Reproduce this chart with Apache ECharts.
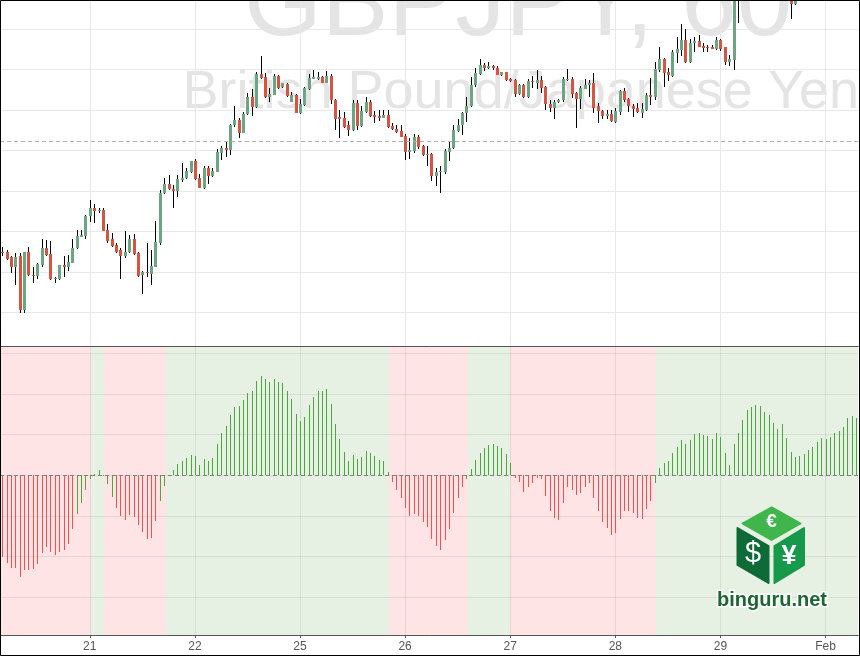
<!DOCTYPE html>
<html><head><meta charset="utf-8">
<script src="https://cdn.jsdelivr.net/npm/echarts@6.0.0/dist/echarts.min.js"></script>
<style>html,body{margin:0;padding:0;background:#fff}#c{width:860px;height:656px}</style>
</head><body><div id="c"></div>
<script>
// ---- axis / tick labels ----
const dayNames = ['20', '21', '22', '25', '26', '27', '28', '29', 'Feb'];
const firstHour = 4;   // first bar: 20 Jan 04:00
const lastHour = 7;    // last bar: 1 Feb 07:00

// ---- GBPJPY hourly candles ----
const openP = [
165.50,165.48,165.36,165.13,165.38,164.06,165.49,164.92,164.90,165.17,
165.59,165.44,164.82,164.83,165.17,165.13,165.23,165.58,165.87,165.89,
166.37,166.57,166.51,166.53,166.04,165.81,165.66,165.53,165.38,165.48,
165.81,165.46,164.91,165.00,164.95,165.13,165.71,166.94,167.17,167.05,
167.01,167.27,167.31,167.48,167.74,167.32,167.07,167.58,167.36,167.48,
167.95,168.06,168.02,168.62,168.76,168.44,168.90,169.33,169.07,169.89,
169.81,169.33,169.38,169.85,169.57,169.64,169.21,169.38,168.94,169.13,
169.53,169.78,169.78,169.81,169.68,169.85,169.25,168.82,168.81,168.62,
168.51,169.18,168.61,168.96,169.20,168.88,168.86,168.81,168.88,168.61,
168.53,168.48,168.37,167.97,167.99,168.34,168.12,167.88,167.92,167.36,
167.46,167.46,167.97,168.06,168.49,168.62,168.92,169.09,169.61,169.89,
170.12,170.03,170.09,170.04,169.88,169.94,169.77,169.75,169.40,169.62,
169.33,169.73,169.68,169.75,169.57,169.15,169.05,169.19,169.24,169.75,
169.77,169.43,169.28,169.53,169.61,169.67,169.09,168.98,168.86,168.91,
168.70,168.95,169.48,169.28,169.10,169.06,168.94,169.00,169.37,169.33,
169.99,170.27,169.95,169.85,170.42,170.49,170.74,170.18,170.65,170.71,
170.59,170.57,170.57,170.50,170.74,170.55,170.19,170.24,172.55,172.20,
172.45,172.75,172.60,172.85,172.70,172.40,172.55,172.15,172.35,172.00,
171.95,171.62,171.95,172.20,172.10,172.35,172.30,172.50,172.45,172.70,
172.60,172.85,172.75,173.00,173.20,173.05];
const highP = [
165.61,165.54,165.38,165.46,165.47,165.50,165.61,165.13,165.21,165.81,
165.79,165.76,164.88,165.17,165.40,165.41,165.81,166.04,166.04,166.41,
166.78,166.68,166.57,166.57,166.19,165.95,165.72,165.58,166.02,165.91,
165.93,165.48,165.02,165.72,165.54,166.27,167.03,167.31,167.40,167.15,
167.40,167.70,167.56,167.75,167.79,167.42,167.62,167.63,167.58,168.04,
168.12,168.22,168.66,169.09,168.80,168.96,169.42,169.52,169.95,170.34,
169.91,169.54,169.90,169.87,169.68,169.66,169.44,169.40,169.27,169.58,
169.89,169.99,169.95,169.85,169.97,169.90,169.27,169.00,168.96,168.73,
169.25,169.25,169.09,169.32,169.24,168.97,169.00,169.00,169.00,168.67,
168.63,168.63,168.40,168.30,168.41,168.39,168.14,168.12,167.93,167.56,
167.62,168.03,168.22,168.64,168.77,168.96,169.33,169.83,170.03,170.26,
170.16,170.20,170.12,170.08,169.95,169.95,169.79,169.76,169.64,169.65,
169.76,169.85,170.00,169.85,169.60,169.25,169.25,169.27,169.83,170.01,
169.81,169.46,169.60,169.76,169.75,169.93,169.17,169.00,169.00,169.00,
169.05,169.50,169.55,169.31,169.14,169.17,169.17,169.42,169.79,170.19,
170.56,170.28,170.03,170.49,170.82,171.13,171.01,170.75,170.82,170.86,
170.65,170.61,170.60,170.82,170.76,170.57,170.36,172.80,173.10,172.70,
172.90,173.00,172.95,173.20,172.85,172.75,172.60,172.50,172.45,172.20,
172.10,172.05,172.30,172.40,172.45,172.55,172.60,172.70,172.80,172.85,
172.95,173.05,173.10,173.30,173.35,173.25];
const lowP = [
165.38,165.29,164.96,164.68,163.98,163.98,164.90,164.72,164.83,165.13,
165.38,164.80,164.73,164.80,164.88,165.03,165.21,165.56,165.85,165.81,
166.24,166.22,166.45,166.00,165.71,165.61,165.46,164.83,165.34,165.46,
165.42,164.88,164.44,164.88,164.68,165.11,165.67,166.93,167.03,166.59,
166.84,167.23,167.29,167.44,167.26,167.07,167.05,167.18,167.34,167.46,
167.77,167.85,167.88,168.58,168.32,168.43,168.87,168.86,169.05,169.77,
169.31,169.21,169.37,169.52,169.54,169.33,169.19,168.92,168.91,169.10,
169.50,169.76,169.75,169.66,169.66,169.15,168.51,168.30,168.57,168.35,
168.49,168.51,168.59,168.94,168.82,168.67,168.72,168.80,168.55,168.51,
168.44,168.33,167.77,167.79,167.95,168.05,167.86,167.62,167.25,167.13,
166.96,167.43,167.73,168.03,168.47,168.39,168.70,169.07,169.58,169.88,
169.98,170.01,169.99,169.86,169.85,169.73,169.70,169.33,169.38,169.31,
169.29,169.54,169.52,169.42,169.00,168.96,168.77,169.17,169.21,169.73,
169.29,168.55,169.04,169.52,169.32,168.92,168.69,168.79,168.79,168.70,
168.67,168.88,169.20,168.96,168.84,168.92,168.81,168.98,169.13,169.24,
169.95,169.58,169.73,169.83,170.16,170.35,170.16,170.16,170.45,170.55,
170.45,170.43,170.50,170.49,170.47,170.12,170.08,169.99,171.16,171.90,
172.20,172.40,172.35,172.60,172.30,172.20,172.05,171.95,171.90,171.78,
171.25,171.60,171.85,172.00,172.00,172.15,172.20,172.30,172.35,172.50,
172.50,172.65,172.60,172.85,172.95,172.90];
const closeP = [
165.48,165.32,165.13,165.37,164.06,165.49,164.91,164.90,165.19,165.59,
165.42,164.82,164.85,165.17,165.13,165.25,165.59,165.89,165.91,166.38,
166.57,166.51,166.54,166.02,165.77,165.64,165.49,165.38,165.50,165.81,
165.44,164.90,165.00,164.96,165.15,165.74,166.96,167.17,167.04,167.01,
167.29,167.31,167.49,167.74,167.29,167.08,167.58,167.36,167.49,167.96,
168.06,168.02,168.63,168.76,168.44,168.91,169.33,169.08,169.89,169.79,
169.33,169.40,169.85,169.55,169.66,169.36,169.38,168.94,169.15,169.54,
169.80,169.83,169.81,169.68,169.85,169.24,168.79,168.79,168.59,168.51,
169.18,168.61,168.98,169.20,168.86,168.84,168.81,168.87,168.58,168.53,
168.46,168.34,167.97,168.02,168.34,168.10,167.88,167.92,167.36,167.47,
167.50,168.00,168.07,168.51,168.63,168.94,169.10,169.62,169.91,170.12,
170.03,170.09,170.03,169.88,169.94,169.75,169.73,169.40,169.62,169.33,
169.71,169.70,169.75,169.55,169.14,169.05,169.20,169.25,169.77,169.78,
169.40,169.28,169.55,169.62,169.68,169.06,168.97,168.86,168.91,168.72,
168.98,169.48,169.25,169.09,169.03,168.95,169.03,169.37,169.33,170.02,
170.27,169.93,169.88,170.45,170.51,170.74,170.18,170.66,170.71,170.57,
170.54,170.53,170.52,170.74,170.51,170.20,170.27,172.55,172.20,172.45,
172.75,172.60,172.85,172.70,172.40,172.55,172.15,172.35,172.00,171.90,
171.62,171.95,172.20,172.10,172.35,172.30,172.50,172.45,172.70,172.60,
172.85,172.75,173.00,173.20,173.05,173.15];
const refPrice = 168.23;   // dashed reference price line

// ---- oscillator histogram ----
const histVal = [
-0.200,-0.215,-0.227,-0.227,-0.249,-0.232,-0.232,-0.230,-0.217,-0.190,
-0.176,-0.188,-0.195,-0.188,-0.183,-0.168,-0.131,-0.094,-0.067,-0.036,
-0.010,0.002,0.013,-0.001,-0.021,-0.053,-0.080,-0.100,-0.110,-0.097,
-0.102,-0.121,-0.139,-0.156,-0.153,-0.112,-0.062,-0.026,0.001,0.013,
0.028,0.035,0.043,0.050,0.047,0.025,0.040,0.035,0.043,0.077,
0.104,0.121,0.148,0.168,0.170,0.185,0.203,0.207,0.232,0.245,
0.237,0.230,0.236,0.230,0.227,0.207,0.188,0.151,0.134,0.143,
0.173,0.193,0.207,0.207,0.212,0.175,0.126,0.089,0.057,0.035,
0.050,0.040,0.045,0.060,0.055,0.048,0.038,0.035,0.008,-0.016,
-0.035,-0.055,-0.080,-0.099,-0.094,-0.099,-0.114,-0.126,-0.156,-0.173,
-0.183,-0.158,-0.131,-0.092,-0.057,-0.030,-0.008,0.016,0.038,0.055,
0.067,0.075,0.077,0.072,0.067,0.052,0.030,-0.006,-0.016,-0.040,
-0.030,-0.020,-0.006,-0.008,-0.052,-0.089,-0.104,-0.109,-0.067,-0.030,
-0.035,-0.048,-0.043,-0.030,-0.018,-0.055,-0.087,-0.114,-0.129,-0.148,
-0.143,-0.107,-0.089,-0.087,-0.092,-0.104,-0.107,-0.082,-0.062,-0.018,
0.018,0.030,0.035,0.055,0.070,0.087,0.077,0.087,0.102,0.104,
0.099,0.097,0.089,0.104,0.094,0.055,0.025,0.077,0.104,0.136,
0.161,0.168,0.173,0.170,0.156,0.148,0.129,0.114,0.126,0.092,
0.057,0.045,0.048,0.052,0.062,0.070,0.082,0.092,0.089,0.094,
0.104,0.109,0.119,0.141,0.146,0.141];
// bar index runs drawn in green (others red)
const histGreenRuns = [[17, 25], [36, 88], [106, 116], [149, 195]];

// ---- background zones of the lower panel (in bar-index units) ----
const zoneStart = [-0.5, 20.2, 23.2, 37.4, 88.4, 106.3, 116.0, 149.2];
const zoneEnd   = [20.2, 23.2, 37.4, 88.4, 106.3, 116.0, 149.2, 195.5];
const zoneBull  = [false, true, false, true, false, true, false, true];

// ---- build categories ----
const categories = [];
dayNames.forEach((d, k) => {
  for (let h = 0; h < 24; h++) {
    if (k === 0 && h < firstHour) continue;
    if (k === dayNames.length - 1 && h > lastHour) continue;
    categories.push(d + ' ' + (h < 10 ? '0' + h : '' + h));
  }
});
const isDayStart = (idx, val) => String(val).slice(-2) === '00';
const isGreen = i => histGreenRuns.some(r => i >= r[0] && i <= r[1]);

const UP = '#6ba583', DOWN = '#d75442';
const HG = '#4aa83e', HR = '#ff4b4b';
const FONT = "'Liberation Sans', Arial, sans-serif";

const candleData = categories.map((c, i) => [i, openP[i], closeP[i], lowP[i], highP[i]]);
const histData = categories.map((c, i) => [i, histVal[i]]);
const zoneData = zoneStart.map((s, k) => [k]);

function renderCandle(params, api) {
  const i = api.value(0), o = api.value(1), c = api.value(2), l = api.value(3), h = api.value(4);
  const pO = api.coord([i, o]), pC = api.coord([i, c]);
  const pL = api.coord([i, l]), pH = api.coord([i, h]);
  const cx = Math.round(pO[0]) + 0.5;
  const top = Math.round(Math.min(pO[1], pC[1]));
  const bot = Math.round(Math.max(pO[1], pC[1]));
  return {
    type: 'group',
    children: [
      { type: 'line', shape: { x1: cx, y1: Math.round(pH[1]), x2: cx, y2: Math.round(pL[1]) },
        style: { stroke: '#000', lineWidth: 1 } },
      { type: 'rect', shape: { x: cx - 1.5, y: top, width: 3, height: Math.max(1, bot - top) },
        style: { fill: c >= o ? UP : DOWN } }
    ]
  };
}
function renderHist(params, api) {
  const i = api.value(0), v = api.value(1);
  const p0 = api.coord([i, 0]), p1 = api.coord([i, v]);
  const x = Math.round(p0[0]);
  const y0 = Math.round(p0[1]), y1 = Math.round(p1[1]);
  return { type: 'rect', shape: { x: x, y: Math.min(y0, y1), width: 1, height: Math.abs(y1 - y0) },
    style: { fill: isGreen(i) ? HG : HR } };
}
function renderZone(params, api) {
  const k = params.dataIndex;
  const base = api.coord([0, 0])[0];
  const bw = api.size([1, 0])[0];
  const cs = params.coordSys;
  const x0 = Math.round(base + zoneStart[k] * bw), x1 = Math.round(base + zoneEnd[k] * bw);
  return { type: 'rect', shape: { x: x0, y: cs.y, width: x1 - x0, height: cs.height },
    style: { fill: zoneBull[k] ? '#e6f1e4' : '#fee4e4' } };
}

const chart = echarts.init(document.getElementById('c'), null, { renderer: 'canvas' });
chart.setOption({
  animation: false,
  backgroundColor: '#fff',
  grid: [
    { left: 0, right: 1.6, top: 0, height: 346 },
    { left: 0, right: 1.6, top: 346, height: 289 }
  ],
  xAxis: [
    { type: 'category', gridIndex: 0, data: categories, boundaryGap: true,
      axisLine: { show: true, onZero: false, lineStyle: { color: '#555', width: 1 } },
      axisTick: { show: false }, axisLabel: { show: false },
      splitLine: { show: true, interval: isDayStart, alignWithLabel: true, lineStyle: { color: '#e8e8e8' } } },
    { type: 'category', gridIndex: 1, data: categories, boundaryGap: true,
      axisLine: { show: true, onZero: false, lineStyle: { color: '#555', width: 1 } },
      axisTick: { show: true, interval: isDayStart, alignWithLabel: true, length: 3, lineStyle: { color: '#555' } },
      axisLabel: { show: true, interval: isDayStart, formatter: v => String(v).split(' ')[0],
        color: '#555', fontSize: 12, fontFamily: FONT, margin: 6 },
      splitLine: { show: true, interval: isDayStart, alignWithLabel: true, lineStyle: { color: 'rgba(0,0,0,0.08)' } } }
  ],
  yAxis: [
    { type: 'value', gridIndex: 0, min: 163.166, max: 171.724, splitNumber: 8, minInterval: 1, maxInterval: 1,
      axisLine: { show: false }, axisTick: { show: false }, axisLabel: { show: false },
      splitLine: { show: true, showMinLine: false, showMaxLine: false, lineStyle: { color: '#e8e8e8' } } },
    { type: 'value', gridIndex: 1, min: -0.3927, max: 0.3179, splitNumber: 7, minInterval: 0.1, maxInterval: 0.1,
      axisLine: { show: false }, axisTick: { show: false }, axisLabel: { show: false },
      splitLine: { show: true, showMinLine: false, showMaxLine: false, lineStyle: { color: 'rgba(0,0,0,0.08)' } } }
  ],
  series: [
    { type: 'custom', name: 'zones', xAxisIndex: 1, yAxisIndex: 1, z: -1, silent: true,
      renderItem: renderZone, data: zoneData, clip: false },
    { type: 'custom', name: 'GBPJPY', xAxisIndex: 0, yAxisIndex: 0, z: 3, clip: true,
      renderItem: renderCandle, encode: { x: 0, y: [1, 2, 3, 4] }, data: candleData },
    { type: 'line', name: 'ref', xAxisIndex: 0, yAxisIndex: 0, data: [], silent: true,
      markLine: { silent: true, symbol: ['none', 'none'], label: { show: false }, animation: false,
        lineStyle: { type: [4, 3], color: '#b0b0b0', width: 1 }, data: [{ yAxis: refPrice }] } },
    { type: 'custom', name: 'osc', xAxisIndex: 1, yAxisIndex: 1, z: 3, clip: true,
      renderItem: renderHist, encode: { x: 0, y: 1 }, data: histData },
    { type: 'line', name: 'zero', xAxisIndex: 1, yAxisIndex: 1, data: [], silent: true,
      markLine: { silent: true, symbol: ['none', 'none'], label: { show: false }, animation: false,
        lineStyle: { type: [4, 3], color: '#808080', width: 1 }, data: [{ yAxis: 0 }] } }
  ],
  graphic: [
    { type: 'text', z: -5, silent: true, style: { text: 'GBPJPY, 60', x: 244, y: 7.4, fill: '#e4e4e4',
        font: "100px " + FONT, align: 'left', verticalAlign: 'middle' } },
    { type: 'text', z: -5, silent: true, style: { text: 'British Pound/Japanese Yen', x: 859, y: 93.3, fill: '#e4e4e4',
        font: "54px " + FONT, align: 'right', verticalAlign: 'middle' } },
    { type: 'polygon', z: 50, silent: true, shape: { points: [[771.7, 507.3], [800.5, 523.5], [771.5, 540], [742.5, 523.5]] },
      style: { fill: '#3fb54b', stroke: '#3fb54b', lineWidth: 2, lineJoin: 'round' } },
    { type: 'polygon', z: 50, silent: true, shape: { points: [[737.5, 528], [768.5, 546], [768.5, 583], [737.5, 565]] },
      style: { fill: '#0e6a36', stroke: '#0e6a36', lineWidth: 2, lineJoin: 'round' } },
    { type: 'polygon', z: 50, silent: true, shape: { points: [[774.5, 546], [804, 528], [804, 565], [774.5, 583]] },
      style: { fill: '#16994a', stroke: '#16994a', lineWidth: 2, lineJoin: 'round' } },
    { type: 'text', z: 51, silent: true, style: { text: '€', x: 771.5, y: 522, fill: '#fff',
        font: "bold 19px " + FONT, align: 'center', verticalAlign: 'middle' } },
    { type: 'text', z: 51, silent: true, style: { text: '$', x: 753, y: 554, fill: '#fff',
        font: "29px " + FONT, align: 'center', verticalAlign: 'middle' } },
    { type: 'text', z: 51, silent: true, style: { text: '¥', x: 789, y: 557, fill: '#fff',
        font: "bold 27px " + FONT, align: 'center', verticalAlign: 'middle' } },
    { type: 'text', z: 51, silent: true, style: { text: 'binguru.net', x: 772, y: 600, fill: '#1c6634',
        stroke: '#fff', lineWidth: 3, font: "bold 20px " + FONT, align: 'center', verticalAlign: 'middle' } },
    { type: 'rect', z: 100, silent: true, shape: { x: 0.5, y: 0.5, width: 859, height: 655 },
      style: { fill: 'none', stroke: '#000', lineWidth: 1 } }
  ]
});
</script></body></html>
